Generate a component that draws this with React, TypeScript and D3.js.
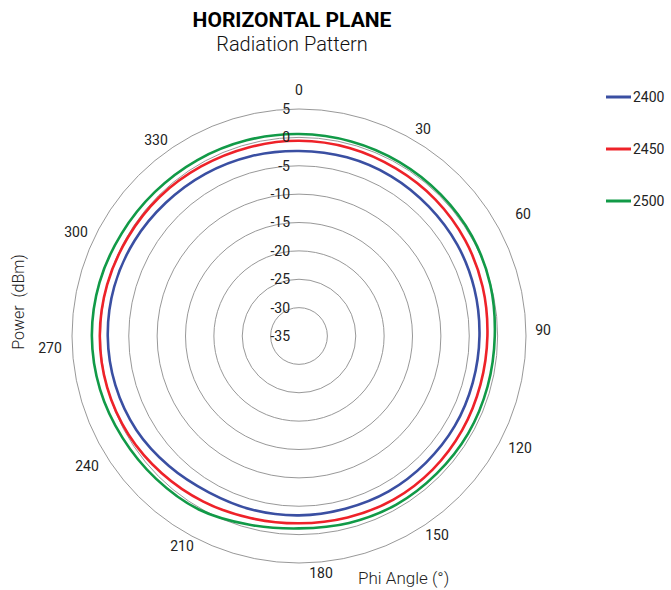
import React, { useEffect, useRef } from "react";
import * as d3 from "d3";

// phi angles (deg) and measured power (dBm) per frequency (MHz)
const angles = [0, 15, 30, 45, 60, 75, 90, 105, 120, 135, 150, 165, 180, 195, 210, 225, 240, 255, 270, 285, 300, 315, 330, 345];
const p2400 = [-2.4, -2.4, -2.5, -2.7, -2.8, -3.0, -3.2, -3.3, -3.3, -3.4, -3.4, -3.5, -3.4, -3.3, -3.2, -2.6, -1.9, -1.5, -1.3, -1.3, -1.5, -1.8, -2.0, -2.2];
const p2450 = [-0.6, -0.7, -0.9, -1.0, -1.2, -1.5, -1.8, -1.9, -1.8, -1.7, -1.7, -1.9, -2.0, -1.8, -1.3, -0.8, -0.3, 0.0, 0.1, 0.0, -0.2, -0.3, -0.5, -0.6];
const p2500 = [0.6, 0.5, 0.4, 0.3, 0.2, -0.1, -0.5, -0.6, -0.6, -0.7, -0.7, -0.9, -1.1, -0.6, 0.3, 0.6, 0.9, 1.3, 1.5, 1.4, 1.1, 0.9, 0.8, 0.7];

const seriesNames = ["2400", "2450", "2500"];
const seriesColors = ["#3a4fa2", "#ee2229", "#119a47"];

const radialTicks = [5, 0, -5, -10, -15, -20, -25, -30, -35];
const angleTicks = [0, 30, 60, 90, 120, 150, 180, 210, 240, 270, 300, 330];

const W = 671;
const H = 590;
const FONT = "Roboto, 'Liberation Sans', sans-serif";

// small nudges so the angle labels sit where the original plot put them
const labelNudge: Record<number, [number, number]> = {
  0: [0, 0], 30: [1, 6], 60: [11, 1], 90: [-2, -6], 120: [8, -11], 150: [15, -14],
  180: [22, -9], 210: [6, -3], 240: [1, 7], 270: [-3, 12], 300: [-10, 19], 330: [-20, 17],
};

export default function App() {
  const svgRef = useRef<SVGSVGElement>(null);

  useEffect(() => {
    const svg = d3.select(svgRef.current);
    svg.selectAll("*").remove();

    const cx = 299;
    const cy = 336;
    const rScale = d3.scaleLinear().domain([-35, 5]).range([0, 227]);

    const g = svg.append("g").attr("transform", `translate(${cx},${cy})`);

    // rings
    g.selectAll("circle.ring")
      .data(radialTicks.filter(v => v > -35))
      .enter()
      .append("circle")
      .attr("class", "ring")
      .attr("r", d => rScale(d))
      .attr("fill", "none")
      .attr("stroke", "#8c8c8c")
      .attr("stroke-width", 0.9);

    // series
    const all = [p2400, p2450, p2500];
    const line = d3.lineRadial<[number, number]>()
      .angle(d => (d[0] * Math.PI) / 180)
      .radius(d => rScale(d[1]))
      .curve(d3.curveCatmullRomClosed.alpha(0.5));

    all.forEach((vals, i) => {
      const pts = angles.map((a, j) => [a, vals[j]] as [number, number]);
      g.append("path")
        .datum(pts)
        .attr("d", line)
        .attr("fill", "none")
        .attr("stroke", seriesColors[i])
        .attr("stroke-width", 2.6)
        .attr("stroke-linejoin", "round");
    });

    // radial tick labels
    g.selectAll("text.rtick")
      .data(radialTicks)
      .enter()
      .append("text")
      .attr("class", "rtick")
      .attr("x", -9)
      .attr("y", d => -rScale(d))
      .attr("dy", "0.35em")
      .attr("text-anchor", "end")
      .attr("font-family", FONT)
      .attr("font-size", 14)
      .attr("fill", "#222")
      .text(d => d);

    // angle tick labels
    const labelR = 246;
    g.selectAll("text.atick")
      .data(angleTicks)
      .enter()
      .append("text")
      .attr("class", "atick")
      .attr("x", d => labelR * Math.sin((d * Math.PI) / 180) + labelNudge[d][0])
      .attr("y", d => -labelR * Math.cos((d * Math.PI) / 180) + labelNudge[d][1])
      .attr("dy", "0.35em")
      .attr("text-anchor", "middle")
      .attr("font-family", FONT)
      .attr("font-size", 14)
      .attr("fill", "#222")
      .text(d => d);

    // titles
    svg.append("text")
      .attr("x", 292)
      .attr("y", 27)
      .attr("text-anchor", "middle")
      .attr("font-family", FONT)
      .attr("font-weight", "bold")
      .attr("font-size", 21)
      .attr("fill", "#000")
      .text("HORIZONTAL PLANE");

    svg.append("text")
      .attr("x", 292)
      .attr("y", 51)
      .attr("text-anchor", "middle")
      .attr("font-family", FONT)
      .attr("font-weight", 300)
      .attr("font-size", 20)
      .attr("fill", "#111")
      .text("Radiation Pattern");

    // axis titles
    svg.append("text")
      .attr("transform", "translate(24,302) rotate(-90)")
      .attr("text-anchor", "middle")
      .attr("font-family", FONT)
      .attr("font-weight", 300)
      .attr("font-size", 16)
      .attr("fill", "#222")
      .style("white-space", "pre")
      .text("Power  (dBm)");

    svg.append("text")
      .attr("x", 358)
      .attr("y", 584)
      .attr("font-family", FONT)
      .attr("font-weight", 300)
      .attr("font-size", 17)
      .attr("fill", "#222")
      .text("Phi Angle (°)");

    // legend
    const legend = svg.append("g").attr("transform", "translate(606,97)");
    seriesNames.forEach((name, i) => {
      const row = legend.append("g").attr("transform", `translate(0,${i * 52})`);
      row.append("line")
        .attr("x1", 0)
        .attr("x2", 25)
        .attr("stroke", seriesColors[i])
        .attr("stroke-width", 3);
      row.append("text")
        .attr("x", 27)
        .attr("dy", "0.35em")
        .attr("font-family", FONT)
        .attr("font-size", 14)
        .attr("fill", "#222")
        .text(name);
    });
  }, []);

  return (
    <svg
      ref={svgRef}
      width={W}
      height={H}
      viewBox={`0 0 ${W} ${H}`}
      style={{ position: "absolute", left: 0, top: 0, background: "#fff" }}
    />
  );
}
